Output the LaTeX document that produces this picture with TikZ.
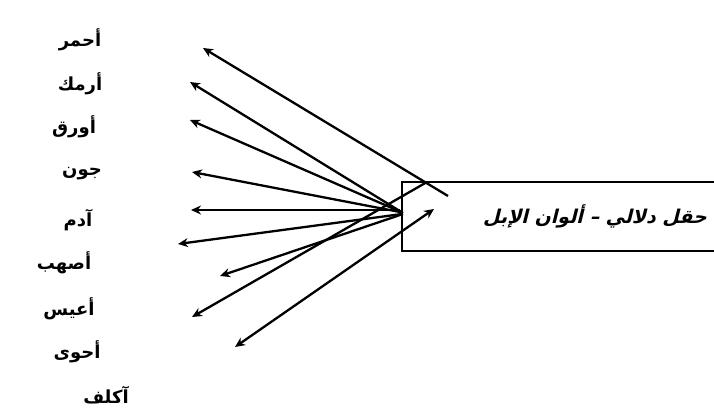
\documentclass[tikz,border=0pt]{standalone}
\usepackage{fontspec}
\TeXXeTstate=1
\newfontfamily\arabicfont[Script=Arabic]{DejaVu Sans Bold}
\newfontfamily\arabicbox[Script=Arabic,FakeSlant=0.25]{DejaVu Sans Bold}
\usetikzlibrary{arrows.meta}
\tikzset{
  lbl/.style={inner sep=0pt, font=\arabicfont\fontsize{18}{20}\selectfont},
  arr/.style={line width=2.3pt, -{Stealth[length=10pt,width=9pt]}},
  arrb/.style={line width=2.3pt, {Stealth[length=10pt,width=9pt]}-{Stealth[length=10pt,width=9pt]}},
  fieldbox/.style={draw, line width=2.3pt, minimum width=340pt, minimum height=69pt, inner sep=0pt}
}
\begin{document}
\begin{tikzpicture}[x=1pt,y=-1pt]
\useasboundingbox (0,0) rectangle (714,414);
\clip (0,0) rectangle (714,414);
\fill[white] (0,0) rectangle (714,414);
% labels
\node[lbl] (l1) at (80,40) {\beginR أحمر\endR};
\node[lbl] (l2) at (80,84) {\beginR أرمك\endR};
\node[lbl] (l3) at (74,127) {\beginR أورق\endR};
\node[lbl] (l4) at (82,174) {\beginR جون\endR};
\node[lbl] (l5) at (78,220) {\beginR آدم\endR};
\node[lbl] (l6) at (64,263) {\beginR أصهب\endR};
\node[lbl] (l7) at (69,309) {\beginR أعيس\endR};
\node[lbl] (l8) at (77,352) {\beginR أحوى\endR};
\node[lbl] (l9) at (106,395) {\beginR آكلف\endR};
% box
\node[fieldbox, anchor=north west] (field) at (401,181) {};
\node[inner sep=0pt, anchor=east, font=\arabicbox\fontsize{19}{22}\selectfont] (ftext) at (707,216) {\beginR حقل دلالي – ألوان الإبل\endR};
% coordinates
\coordinate (t1) at (203,48);
\coordinate (t2) at (190,82);
\coordinate (t3) at (190,120);
\coordinate (t4) at (192,172);
\coordinate (t5) at (191,210);
\coordinate (t6) at (178,244);
\coordinate (t7) at (220,276);
\coordinate (t8) at (192,317);
\coordinate (t9) at (235,347);
\coordinate (h1) at (448,196);
\coordinate (h2) at (403,213);
\coordinate (h3) at (401,212);
\coordinate (h4) at (400,212);
\coordinate (h5) at (400,210);
\coordinate (h6) at (402,214);
\coordinate (h7) at (403,214);
\coordinate (h8) at (427,182);
\coordinate (h9) at (434,209);
% arrows
\draw[arr] (h1) -- (t1);
\draw[arr] (h2) -- (t2);
\draw[arr] (h3) -- (t3);
\draw[arr] (h4) -- (t4);
\draw[arr] (h5) -- (t5);
\draw[arr] (h6) -- (t6);
\draw[arr] (h7) -- (t7);
\draw[arr] (h8) -- (t8);
\draw[arrb] (t9) -- (h9);
\end{tikzpicture}
\end{document}
